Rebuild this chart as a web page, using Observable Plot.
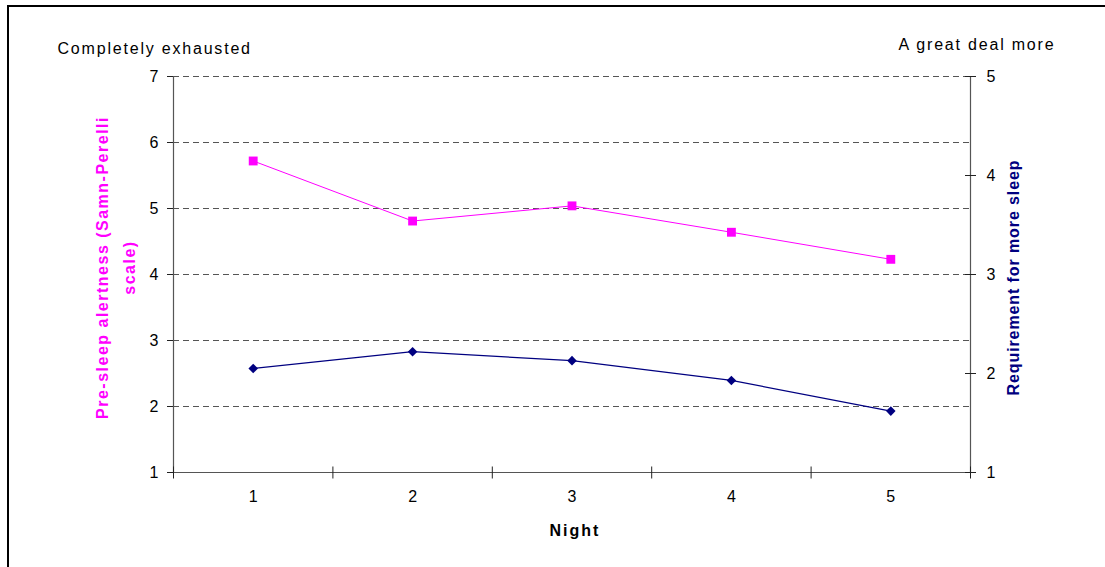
<!DOCTYPE html>
<html>
<head>
<meta charset="utf-8">
<script src="https://cdn.jsdelivr.net/npm/d3@7"></script>
<script src="https://cdn.jsdelivr.net/npm/@observablehq/plot@0.6"></script>
<style>
  html, body { margin: 0; padding: 0; background: #fff; overflow: hidden; width: 1105px; height: 567px; }
  #frame { position: absolute; left: 7px; top: 5px; width: 1200px; height: 700px; border-left: 2px solid #000; border-top: 2px solid #000; }
  #chart { position: absolute; left: 0; top: 0; }
</style>
</head>
<body>
<div id="frame"></div>
<div id="chart"></div>
<script>
const nights = [1, 2, 3, 4, 5];
const alertness = [5.72, 4.81, 5.04, 4.64, 4.23];
const requirement = [2.05, 2.22, 2.13, 1.93, 1.62];
const leftTicks = [1, 2, 3, 4, 5, 6, 7];
const rightTicks = [1, 2, 3, 4, 5];
const gridValues = [2, 3, 4, 5, 6, 7];
const leftCornerLabel = "Completely exhausted";
const rightCornerLabel = "A great deal more";
const xTitle = "Night";
const leftTitle = "Pre-sleep alertness (Samn-Perelli\nscale)";
const rightTitle = "Requirement for more sleep";

const pink = "#FF00FF";
const navy = "#000080";
const axisGray = "#555";

const lMin = leftTicks[0], lMax = leftTicks[leftTicks.length - 1];
const rMin = rightTicks[0], rMax = rightTicks[rightTicks.length - 1];
const toLeft = r => lMin + (r - rMin) * (lMax - lMin) / (rMax - rMin);
const fromLeft = l => rMin + (l - lMin) * (rMax - rMin) / (lMax - lMin);

const xLo = nights[0] - 0.5, xHi = nights[nights.length - 1] + 0.5;
const boundaries = [...nights.map(n => n - 0.5), xHi];

const rows = nights.map((n, i) => ({night: n, alert: alertness[i], req: toLeft(requirement[i])}));

const vTick = {draw(ctx, size) { const r = Math.sqrt(size / Math.PI); ctx.moveTo(0, -r); ctx.lineTo(0, r); }};
const hTick = {draw(ctx, size) { const r = Math.sqrt(size / Math.PI); ctx.moveTo(-r, 0); ctx.lineTo(r, 0); }};

const chart = Plot.plot({
  width: 1105,
  height: 567,
  marginLeft: 173,
  marginRight: 135,
  marginTop: 76,
  marginBottom: 95,
  style: {fontFamily: "'Liberation Sans', Arial, sans-serif", fontSize: "16px", color: "#000", background: "transparent"},
  x: {domain: [xLo, xHi]},
  y: {domain: [lMin, lMax]},
  marks: [
    Plot.ruleY(gridValues, {y: d => d, stroke: axisGray, strokeDasharray: "6,4", strokeWidth: 1}),
    Plot.ruleX([xLo, xHi], {x: d => d, stroke: axisGray, strokeWidth: 1.2}),
    Plot.ruleY([lMin], {y: d => d, stroke: axisGray, strokeWidth: 1.2}),
    Plot.dot(boundaries, {x: d => d, y: () => lMin, symbol: vTick, r: 6, stroke: "#222", strokeWidth: 1}),
    Plot.dot(rightTicks, {x: () => xHi, y: d => toLeft(d), symbol: hTick, r: 5.5, stroke: "#222", strokeWidth: 1}),
    Plot.axisY({ticks: leftTicks, tickSize: 6, tickPadding: 9, stroke: "#222", fill: "#000", label: null, tickFormat: d => String(d)}),
    Plot.axisY({anchor: "right", ticks: rightTicks.map(toLeft), tickSize: 0, tickPadding: 16, fill: "#000", label: null, tickFormat: d => String(Math.round(fromLeft(d)))}),
    Plot.axisX({ticks: nights, tickSize: 0, tickPadding: 18, fill: "#000", label: null, tickFormat: d => String(d)}),
    Plot.line(rows, {x: "night", y: "alert", stroke: pink, strokeWidth: 1}),
    Plot.dot(rows, {x: "night", y: "alert", symbol: "square", r: 5, fill: pink, stroke: "none"}),
    Plot.line(rows, {x: "night", y: "req", stroke: navy, strokeWidth: 1.2}),
    Plot.dot(rows, {x: "night", y: "req", symbol: "diamond2", r: 4.3, fill: navy, stroke: "none"}),
    Plot.text([leftCornerLabel], {frameAnchor: "top-left", textAnchor: "start", lineAnchor: "middle", dx: -116, dy: -28, fill: "#000"}),
    Plot.text([rightCornerLabel], {frameAnchor: "top-right", textAnchor: "start", lineAnchor: "middle", dx: -72, dy: -32, fill: "#000"}),
    Plot.text([xTitle], {frameAnchor: "bottom", textAnchor: "middle", lineAnchor: "middle", dx: 3, dy: 58, fontWeight: "bold", fill: "#000"}),
    Plot.text([leftTitle], {frameAnchor: "left", textAnchor: "middle", rotate: -90, lineAnchor: "middle", lineHeight: 1.7, dx: -61, dy: -7, fontWeight: "bold", fill: pink}),
    Plot.text([rightTitle], {frameAnchor: "right", textAnchor: "middle", rotate: -90, lineAnchor: "middle", dx: 43, dy: 3, fontWeight: "bold", fill: navy})
  ]
});
document.getElementById("chart").appendChild(chart);

// letter spacing to match the original rendering
d3.select(chart).selectAll("text").each(function() {
  const t = this.textContent;
  if (t === leftCornerLabel || t === rightCornerLabel) this.style.letterSpacing = "1.8px";
  else if (t === xTitle) this.style.letterSpacing = "2px";
  else if (t === rightTitle) this.style.letterSpacing = "0.9px";
  else if (t.startsWith("Pre-sleep")) this.style.letterSpacing = "1.5px";
});
</script>
</body>
</html>
